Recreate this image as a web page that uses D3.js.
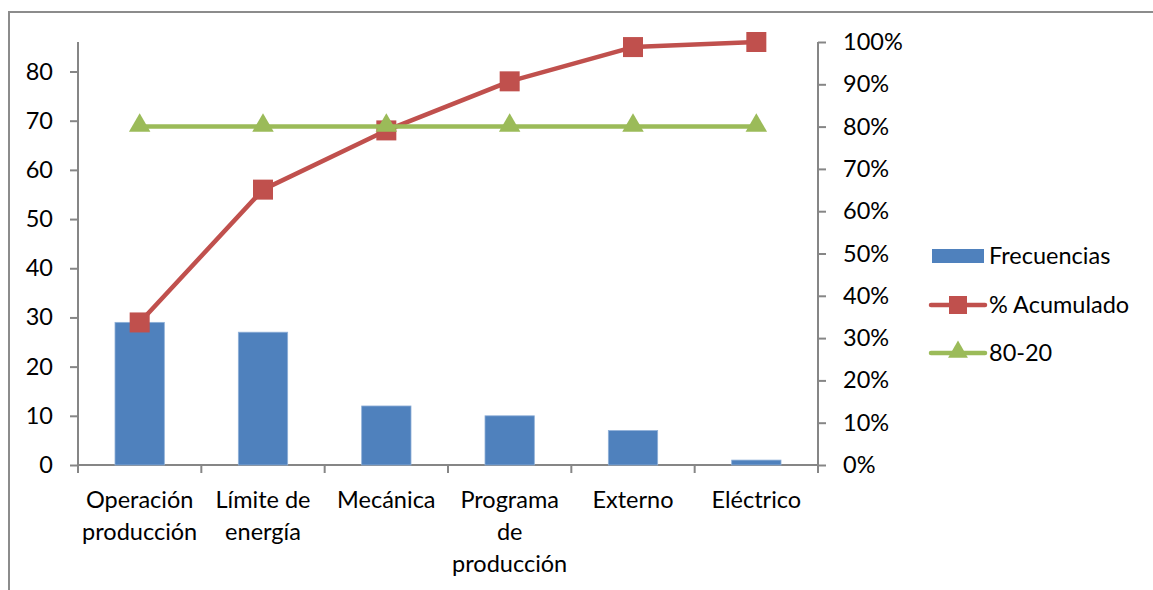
<!DOCTYPE html>
<html>
<head>
<meta charset="utf-8">
<script src="https://cdn.jsdelivr.net/npm/d3@7"></script>
<style>
  html, body { margin: 0; padding: 0; background: #fff; }
  svg { display: block; }
  text { font-family: Lato, "Open Sans", sans-serif; fill: #000; }
</style>
</head>
<body>
<svg id="chart" width="1153" height="590"></svg>
<script>
// Pareto data: failure causes, frequencies, cumulative share and the 80-20 reference
const categories = ["Operación producción", "Límite de energía", "Mecánica", "Programa de producción", "Externo", "Eléctrico"];
const frecuencias = [29, 27, 12, 10, 7, 1];
const acumulado = [33.7, 65.1, 79.1, 90.7, 98.8, 100];
const referencia = [80, 80, 80, 80, 80, 80];
const leftTicks = [0, 10, 20, 30, 40, 50, 60, 70, 80];
const rightTicks = [0, 10, 20, 30, 40, 50, 60, 70, 80, 90, 100];
const seriesNames = ["Frecuencias", "% Acumulado", "80-20"];

const colors = { bar: "#4F81BD", cum: "#C0504D", ref: "#9BBB59", axis: "#868686" };
const fontSize = 23.5;

const svg = d3.select("#chart");

// outer chart frame
svg.append("rect")
  .attr("x", 9).attr("y", 12)
  .attr("width", 1160).attr("height", 600)
  .attr("fill", "none").attr("stroke", "#8c8c8c").attr("stroke-width", 2);

const plot = { left: 78, right: 818, top: 42, bottom: 465 };

const x = d3.scaleBand().domain(categories).range([plot.left, plot.right]).paddingInner(0.6).paddingOuter(0.3);
const xc = d => x(d) + x.bandwidth() / 2;
const yL = d3.scaleLinear().domain([0, 86]).range([plot.bottom, plot.top]);
const yR = d3.scaleLinear().domain([0, 100]).range([plot.bottom, plot.top]);

// left axis
const axL = svg.append("g").attr("transform", `translate(${plot.left},0)`)
  .call(d3.axisLeft(yL).tickValues(leftTicks).tickSize(8).tickPadding(17));
// right axis
const axR = svg.append("g").attr("transform", `translate(${plot.right},0)`)
  .call(d3.axisRight(yR).tickValues(rightTicks).tickSize(8).tickPadding(17).tickFormat(d => d + "%"));
// category axis with ticks at band boundaries
const bounds = d3.range(categories.length + 1).map(i => plot.left + i * (plot.right - plot.left) / categories.length);
const axB = svg.append("g");
axB.append("line").attr("x1", plot.left).attr("x2", plot.right).attr("y1", plot.bottom).attr("y2", plot.bottom);
axB.selectAll(".bt").data(bounds).join("line").attr("class", "bt")
  .attr("x1", d => d).attr("x2", d => d).attr("y1", plot.bottom).attr("y2", plot.bottom + 8);
axB.selectAll("line").attr("stroke", colors.axis).attr("stroke-width", 2);

[axL, axR].forEach(g => {
  g.select(".domain").attr("stroke", colors.axis).attr("stroke-width", 2)
    .attr("d", `M0,${plot.top}V${plot.bottom}`);
  g.selectAll(".tick line").attr("stroke", colors.axis).attr("stroke-width", 2);
  g.selectAll(".tick text").style("font-size", fontSize + "px").style("font-family", "Lato, 'Open Sans', sans-serif").attr("fill", "#000");
});

// category labels, wrapped to the band width
const bandW = (plot.right - plot.left) / categories.length;
const measure = svg.append("text").style("font-size", fontSize + "px");
function wrap(label) {
  const words = label.split(" ");
  const lines = [];
  let cur = "";
  words.forEach(w => {
    const t = cur ? cur + " " + w : w;
    measure.text(t);
    if (cur && measure.node().getComputedTextLength() > bandW - 8) { lines.push(cur); cur = w; }
    else cur = t;
  });
  lines.push(cur);
  return lines;
}
const labels = svg.append("g");
categories.forEach(c => {
  const t = labels.append("text").attr("text-anchor", "middle").style("font-size", fontSize + "px");
  wrap(c).forEach((ln, i) => {
    t.append("tspan").attr("x", xc(c)).attr("y", 508 + i * 32).text(ln);
  });
});
measure.remove();

// bars
svg.append("g").selectAll("rect").data(frecuencias).join("rect")
  .attr("x", (d, i) => x(categories[i]))
  .attr("y", d => yL(d))
  .attr("width", x.bandwidth())
  .attr("height", d => yL(0) - yL(d))
  .attr("fill", colors.bar)
  .attr("stroke", "#8fb0d8").attr("stroke-width", 0.8);

// cumulative line with square markers
const line = d3.line().x((d, i) => xc(categories[i])).y(d => yR(d));
svg.append("path").datum(acumulado).attr("d", line)
  .attr("fill", "none").attr("stroke", colors.cum).attr("stroke-width", 4.5).attr("stroke-linejoin", "round");
svg.append("g").selectAll("rect").data(acumulado).join("rect")
  .attr("x", (d, i) => xc(categories[i]) - 10).attr("y", d => yR(d) - 10)
  .attr("width", 20).attr("height", 20).attr("fill", colors.cum);

// 80-20 reference line with triangle markers
svg.append("path").datum(referencia).attr("d", line)
  .attr("fill", "none").attr("stroke", colors.ref).attr("stroke-width", 4.5);
const tri = d3.symbol().type(d3.symbolTriangle).size(200);
svg.append("g").selectAll("path").data(referencia).join("path")
  .attr("transform", (d, i) => `translate(${xc(categories[i])},${yR(d) - 1})`)
  .attr("d", tri).attr("fill", colors.ref);

// legend
const lg = svg.append("g");
const rows = [256, 305, 353];
lg.append("rect").attr("x", 932).attr("y", rows[0] - 7).attr("width", 52).attr("height", 14).attr("fill", colors.bar);
lg.append("line").attr("x1", 931).attr("x2", 985).attr("y1", rows[1]).attr("y2", rows[1])
  .attr("stroke", colors.cum).attr("stroke-width", 4.5).attr("stroke-linecap", "round");
lg.append("rect").attr("x", 949).attr("y", rows[1] - 9).attr("width", 18).attr("height", 18).attr("fill", colors.cum);
lg.append("line").attr("x1", 931).attr("x2", 985).attr("y1", rows[2]).attr("y2", rows[2])
  .attr("stroke", colors.ref).attr("stroke-width", 4.5).attr("stroke-linecap", "round");
lg.append("path").attr("transform", `translate(958,${rows[2] - 1})`).attr("d", d3.symbol().type(d3.symbolTriangle).size(170)).attr("fill", colors.ref);
lg.selectAll("text.lt").data(seriesNames).join("text").attr("class", "lt")
  .attr("x", 989).attr("y", (d, i) => rows[i]).attr("dy", "0.35em")
  .style("font-size", fontSize + "px").text(d => d);
</script>
</body>
</html>
